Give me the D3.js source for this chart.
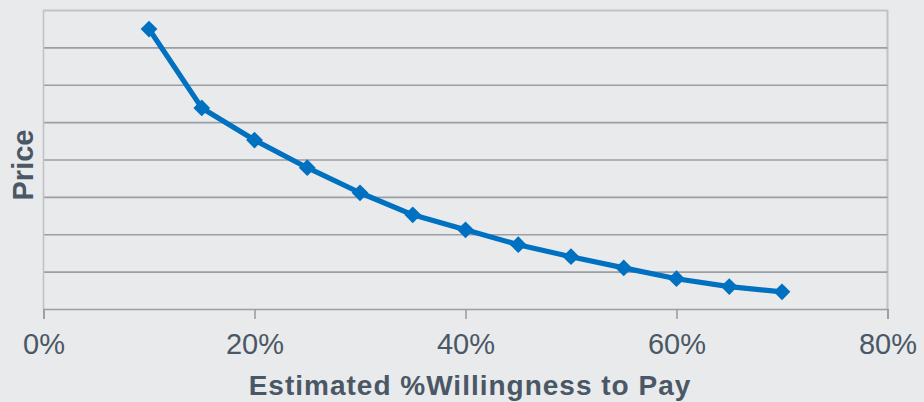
<!DOCTYPE html>
<html>
<head>
<meta charset="utf-8">
<script src="https://cdn.jsdelivr.net/npm/d3@7"></script>
<style>
  html, body { margin: 0; padding: 0; background: #e9eaec; }
  svg { display: block; }
  text { font-family: "Liberation Sans", Arial, sans-serif; }
</style>
</head>
<body>
<svg id="chart" width="924" height="402"></svg>
<script>
// Share of buyers willing to pay (x) against relative price level (y)
const willingness = [0.10, 0.15, 0.20, 0.25, 0.30, 0.35, 0.40, 0.45, 0.50, 0.55, 0.60, 0.65, 0.70];
const price       = [7.49, 5.38, 4.52, 3.78, 3.11, 2.52, 2.12, 1.72, 1.40, 1.10, 0.81, 0.60, 0.46];
const xTicks = [0, 0.2, 0.4, 0.6, 0.8];
const yGrid  = [1, 2, 3, 4, 5, 6, 7];
const xTitle = "Estimated %Willingness to Pay";
const yTitle = "Price";

(function () {
  const svg = d3.select("#chart");
  const plotLeft = 43.5, plotRight = 887.5, plotTop = 10, plotBottom = 309;

  const x = d3.scaleLinear().domain([0, 0.8]).range([plotLeft, plotRight]);
  const y = d3.scaleLinear().domain([0, 8]).range([plotBottom, plotTop]);

  const textColor = "#4a5866";
  const gridColor = "#9b9ea2";
  const frameColor = "#bfc3c7";

  // plot frame (top, right)
  svg.append("line").attr("x1", plotLeft).attr("x2", plotRight).attr("y1", plotTop + 0.5).attr("y2", plotTop + 0.5)
    .attr("stroke", frameColor).attr("stroke-width", 2);
  svg.append("line").attr("x1", plotRight).attr("x2", plotRight).attr("y1", plotTop).attr("y2", plotBottom)
    .attr("stroke", frameColor).attr("stroke-width", 2);

  // horizontal gridlines
  const gridAxis = d3.axisLeft(y).tickValues(yGrid).tickSize(-(plotRight - plotLeft)).tickFormat("");
  const g = svg.append("g").attr("transform", `translate(${plotLeft},0)`).call(gridAxis);
  g.select(".domain").remove();
  g.selectAll(".tick line").attr("stroke", gridColor).attr("stroke-width", 1.6);

  // left axis line
  svg.append("line").attr("x1", plotLeft).attr("x2", plotLeft).attr("y1", plotTop).attr("y2", plotBottom)
    .attr("stroke", frameColor).attr("stroke-width", 1.6);

  // bottom axis
  const xAxis = d3.axisBottom(x).tickValues(xTicks).tickSize(10).tickPadding(14)
    .tickFormat(d3.format(".0%"));
  const gx = svg.append("g").attr("transform", `translate(0,${plotBottom})`).call(xAxis);
  gx.select(".domain").attr("stroke", gridColor).attr("stroke-width", 1.6);
  gx.selectAll(".tick line").attr("stroke", gridColor).attr("stroke-width", 1.6);
  gx.selectAll(".tick text").attr("fill", textColor)
    .style("font-size", "29px").style("font-family", "'Liberation Sans', Arial, sans-serif");

  // data line
  const pts = willingness.map((w, i) => [w, price[i]]);
  svg.append("path").datum(pts)
    .attr("fill", "none").attr("stroke", "#0070c0").attr("stroke-width", 5.2)
    .attr("stroke-linejoin", "round")
    .attr("d", d3.line().x(d => x(d[0])).y(d => y(d[1])));

  // diamond markers
  const diamond = d3.symbol().type(d3.symbolSquare).size(140);
  svg.selectAll(".mark").data(pts).enter().append("path")
    .attr("class", "mark")
    .attr("d", diamond)
    .attr("transform", d => `translate(${x(d[0])},${y(d[1])}) rotate(45)`)
    .attr("fill", "#0070c0");

  // axis titles
  svg.append("text").attr("x", 470).attr("y", 395).attr("text-anchor", "middle")
    .attr("fill", textColor).style("font-size", "28px").style("font-weight", "bold")
    .style("letter-spacing", "1px")
    .text(xTitle);
  svg.append("text").attr("transform", "translate(33,165) rotate(-90)").attr("text-anchor", "middle")
    .attr("fill", textColor).style("font-size", "29px").style("font-weight", "bold")
    .text(yTitle);
})();
</script>
</body>
</html>
